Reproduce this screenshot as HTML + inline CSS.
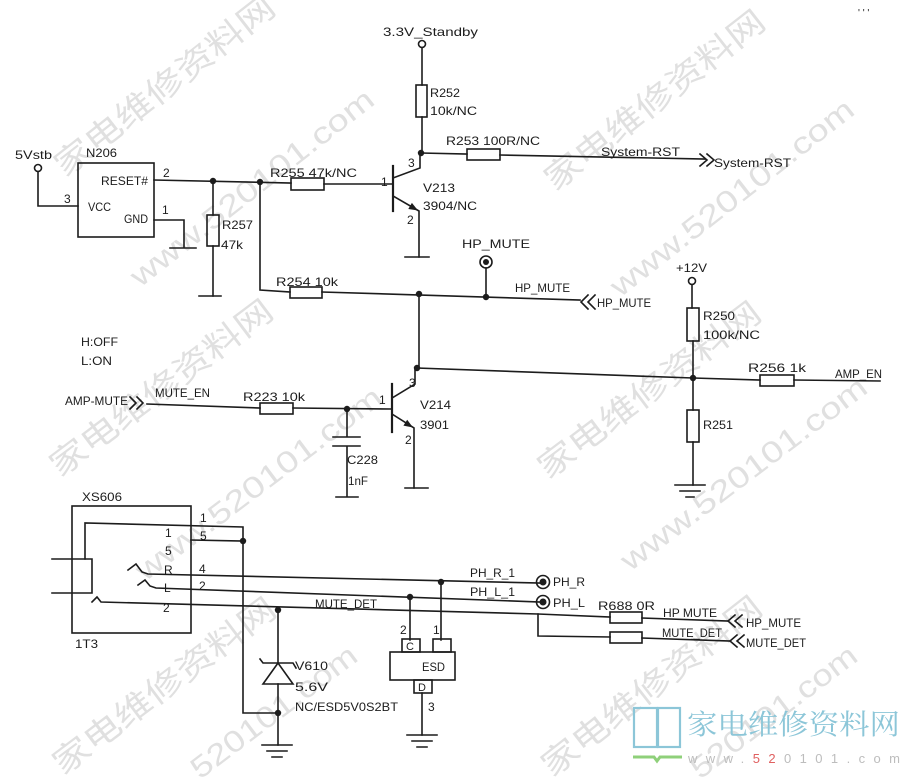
<!DOCTYPE html>
<html><head><meta charset="utf-8"><style>
html,body{margin:0;padding:0;background:#fff;width:910px;height:781px;overflow:hidden;}
svg{display:block;overflow:hidden;}
.t{font-family:"Liberation Sans","Noto Sans CJK SC",sans-serif;font-size:12px;fill:#1c1c1c;}
.w{font-family:"Liberation Sans","Noto Sans CJK SC",sans-serif;fill:#e0e0e0;}
</style></head><body>
<svg width="910" height="781" viewBox="0 0 910 781" xmlns="http://www.w3.org/2000/svg">
<defs><clipPath id="cp"><rect x="0" y="0" width="910" height="781"/></clipPath></defs>
<rect width="910" height="781" fill="#fff"/>
<g clip-path="url(#cp)">
<!-- watermarks -->
<g class="w" font-size="32">
<text transform="translate(65,178) rotate(-38)" textLength="270" lengthAdjust="spacingAndGlyphs">家电维修资料网</text>
<text transform="translate(555,192) rotate(-38)" textLength="270" lengthAdjust="spacingAndGlyphs">家电维修资料网</text>
<text transform="translate(60,478) rotate(-37)" textLength="270" lengthAdjust="spacingAndGlyphs">家电维修资料网</text>
<text transform="translate(548,480) rotate(-37)" textLength="270" lengthAdjust="spacingAndGlyphs">家电维修资料网</text>
<text transform="translate(63,776) rotate(-37)" textLength="270" lengthAdjust="spacingAndGlyphs">家电维修资料网</text>
<text transform="translate(552,778) rotate(-38)" textLength="270" lengthAdjust="spacingAndGlyphs">家电维修资料网</text>
</g>
<g class="w" font-size="30">
<text transform="translate(140,288) rotate(-38)" textLength="300" lengthAdjust="spacingAndGlyphs">www.520101.com</text>
<text transform="translate(620,298) rotate(-38)" textLength="300" lengthAdjust="spacingAndGlyphs">www.520101.com</text>
<text transform="translate(145,582) rotate(-37)" textLength="300" lengthAdjust="spacingAndGlyphs">www.520101.com</text>
<text transform="translate(630,572) rotate(-37)" textLength="300" lengthAdjust="spacingAndGlyphs">www.520101.com</text>
<text transform="translate(200,780) rotate(-37)" textLength="200" lengthAdjust="spacingAndGlyphs">520101.com</text>
<text transform="translate(700,780) rotate(-37)" textLength="200" lengthAdjust="spacingAndGlyphs">520101.com</text>
</g>
</g>

<g stroke="#1c1c1c" stroke-width="1.6" fill="none" stroke-linecap="square">
<!-- 5Vstb / N206 -->
<circle cx="38" cy="168" r="3.5"/>
<path d="M38,171.5 V206 H78"/>
<rect x="78" y="163" width="76" height="74"/>
<path d="M154,180 L291,183"/>
<path d="M154,220 H184 V247"/>
<path d="M170,248 H196"/>
<!-- R257 -->
<path d="M213,181 V215"/>
<rect x="207" y="215" width="12" height="31"/>
<path d="M213,246 V296"/>
<path d="M199,296 H221"/>
<!-- R254 path -->
<path d="M260,182 V290 L290,292"/>
<!-- R255 -->
<rect x="291" y="178" width="33" height="12"/>
<path d="M324,184 H393"/>
<!-- V213 -->
<path d="M393,166 V211" stroke-width="2.2"/>
<path d="M393,178 L420,168 V153"/>
<path d="M393,196 L419,211 V257"/>
<path d="M405,257 H429"/>
<!-- 3.3V standby -->
<circle cx="422" cy="44" r="3.5"/>
<path d="M422,47.5 V85"/>
<rect x="416" y="85" width="11" height="32"/>
<path d="M422,117 V153"/>
<path d="M421,153 L467,154"/>
<rect x="467" y="149" width="33" height="11"/>
<path d="M500,155 L705,159"/>
<path d="M700,154 L707,160 L700,166 M707,154 L714,160 L707,166"/>
<!-- R254 line -->
<rect x="290" y="287" width="32" height="11"/>
<path d="M322,292 L580,300"/>
<circle cx="486" cy="262" r="6"/>
<path d="M486,268 V297"/>
<path d="M588,295 L581,302 L588,309 M595,295 L588,302 L595,309"/>
<path d="M419,294 V368"/>
<!-- AMP-MUTE -->
<path d="M130,397 L136,403 L130,409 M137,397 L143,403 L137,409"/>
<path d="M147,404 L260,408"/>
<rect x="260" y="403" width="33" height="11"/>
<path d="M293,408 L392,409"/>
<!-- V214 -->
<path d="M392,384 V432" stroke-width="2.2"/>
<path d="M392,398 L415,384 V368"/>
<path d="M392,414 L414,428 V488"/>
<path d="M405,488 H428"/>
<!-- C228 -->
<path d="M347,409 V437 M333,437 H360 M333,446 H360 M347,446 V497 M336,497 H358"/>
<!-- AMP_EN -->
<path d="M417,368 L693,378 L760,380"/>
<rect x="760" y="375" width="34" height="11"/>
<path d="M794,380 L880,381"/>
<circle cx="692" cy="281" r="3.5"/>
<path d="M692,284.5 V308"/>
<rect x="687" y="308" width="12" height="33"/>
<path d="M693,341 V410"/>
<rect x="687" y="410" width="12" height="32"/>
<path d="M693,442 V485"/>
<path d="M675,485 H705 M680,491 H700 M686,497 H694"/>
<!-- XS606 -->
<rect x="72" y="506" width="119" height="127"/>
<path d="M85,559 V523 L243,527 V713 L278,713"/>
<path d="M191,540 L243,541"/>
<path d="M52,559 H92 V593 H52"/>
<path d="M128,570 L136,564 L142,572 L148,574 L540,583"/>
<path d="M138,585 L145,580 L150,586 L156,588 L540,602"/>
<path d="M92,602 L97,597 L101,602 L538,614 L610,617"/>
<rect x="610" y="612" width="32" height="11"/>
<path d="M642,618 L728,621"/>
<path d="M735,615 L728,621 L735,627 M742,615 L735,621 L742,627"/>
<path d="M538,614 V636 L610,637"/>
<rect x="610" y="632" width="32" height="11"/>
<path d="M642,638 L730,641"/>
<path d="M737,635 L730,641 L737,647 M744,635 L737,641 L744,647"/>
<circle cx="543" cy="582" r="6.5"/>
<circle cx="543" cy="602" r="6.5"/>
<!-- Zener -->
<path d="M278,610 V663"/>
<path d="M260,659 L263,663 H293 L296,668"/>
<path d="M278,663 L263,684 H293 Z"/>
<path d="M278,684 V745"/>
<path d="M262,745 H292 M267,751 H287 M272,757 H282"/>
<!-- ESD -->
<path d="M410,597 V640 M441,582 V640"/>
<rect x="390" y="652" width="65" height="28"/>
<rect x="402" y="639" width="18" height="13"/>
<rect x="433" y="639" width="18" height="13"/>
<rect x="414" y="680" width="18" height="13"/>
<path d="M422,693 V735"/>
<path d="M407,735 H437 M412,741 H432 M417,747 H427"/>
</g>

<!-- junctions & filled bits -->
<g fill="#1c1c1c">
<circle cx="213" cy="181" r="3.2"/>
<circle cx="260" cy="182" r="3.2"/>
<circle cx="421" cy="153" r="3.2"/>
<circle cx="419" cy="294" r="3.2"/>
<circle cx="486" cy="297" r="3.2"/>
<circle cx="486" cy="262" r="3"/>
<circle cx="347" cy="409" r="3.2"/>
<circle cx="417" cy="368" r="3.2"/>
<circle cx="693" cy="378" r="3.2"/>
<circle cx="243" cy="541" r="3.2"/>
<circle cx="278" cy="610" r="3.2"/>
<circle cx="278" cy="713" r="3.2"/>
<circle cx="441" cy="582" r="3.2"/>
<circle cx="410" cy="597" r="3.2"/>
<circle cx="543" cy="582" r="3.5"/>
<circle cx="543" cy="602" r="3.5"/>
<polygon points="418,210.5 408.3,209 411.9,202.9"/>
<polygon points="413,427.5 403.4,425.6 407.2,419.7"/>
</g>

<!-- labels -->
<g class="t">
<text x="15" y="159" textLength="37" lengthAdjust="spacingAndGlyphs">5Vstb</text>
<text x="86" y="157" textLength="31" lengthAdjust="spacingAndGlyphs">N206</text>
<text x="101" y="185" textLength="47" lengthAdjust="spacingAndGlyphs">RESET#</text>
<text x="88" y="211" textLength="23" lengthAdjust="spacingAndGlyphs">VCC</text>
<text x="124" y="223" textLength="24" lengthAdjust="spacingAndGlyphs">GND</text>
<text x="64" y="203">3</text>
<text x="163" y="177">2</text>
<text x="162" y="214">1</text>
<text x="222" y="229" textLength="31" lengthAdjust="spacingAndGlyphs">R257</text>
<text x="221" y="249" textLength="22" lengthAdjust="spacingAndGlyphs">47k</text>
<text x="383" y="36" textLength="95" lengthAdjust="spacingAndGlyphs">3.3V_Standby</text>
<text x="430" y="97" textLength="30" lengthAdjust="spacingAndGlyphs">R252</text>
<text x="430" y="115" textLength="47" lengthAdjust="spacingAndGlyphs">10k/NC</text>
<text x="446" y="145" textLength="94" lengthAdjust="spacingAndGlyphs">R253 100R/NC</text>
<text x="270" y="177" textLength="87" lengthAdjust="spacingAndGlyphs">R255 47k/NC</text>
<text x="381" y="186">1</text>
<text x="408" y="167">3</text>
<text x="407" y="224">2</text>
<text x="423" y="192" textLength="32" lengthAdjust="spacingAndGlyphs">V213</text>
<text x="423" y="210" textLength="54" lengthAdjust="spacingAndGlyphs">3904/NC</text>
<text x="601" y="156" textLength="79" lengthAdjust="spacingAndGlyphs">System-RST</text>
<text x="714" y="167" textLength="77" lengthAdjust="spacingAndGlyphs">System-RST</text>
<text x="276" y="286" textLength="62" lengthAdjust="spacingAndGlyphs">R254 10k</text>
<text x="462" y="248" textLength="68" lengthAdjust="spacingAndGlyphs">HP_MUTE</text>
<text x="515" y="292" textLength="55" lengthAdjust="spacingAndGlyphs">HP_MUTE</text>
<text x="597" y="307" textLength="54" lengthAdjust="spacingAndGlyphs">HP_MUTE</text>
<text x="676" y="272" textLength="31" lengthAdjust="spacingAndGlyphs">+12V</text>
<text x="703" y="320" textLength="32" lengthAdjust="spacingAndGlyphs">R250</text>
<text x="703" y="339" textLength="57" lengthAdjust="spacingAndGlyphs">100k/NC</text>
<text x="703" y="429" textLength="30" lengthAdjust="spacingAndGlyphs">R251</text>
<text x="748" y="372" textLength="58" lengthAdjust="spacingAndGlyphs">R256 1k</text>
<text x="835" y="378" textLength="47" lengthAdjust="spacingAndGlyphs">AMP_EN</text>
<text x="81" y="346" textLength="37" lengthAdjust="spacingAndGlyphs">H:OFF</text>
<text x="81" y="365" textLength="31" lengthAdjust="spacingAndGlyphs">L:ON</text>
<text x="65" y="405" textLength="63" lengthAdjust="spacingAndGlyphs">AMP-MUTE</text>
<text x="155" y="397" textLength="55" lengthAdjust="spacingAndGlyphs">MUTE_EN</text>
<text x="243" y="401" textLength="62" lengthAdjust="spacingAndGlyphs">R223 10k</text>
<text x="379" y="404">1</text>
<text x="409" y="387">3</text>
<text x="405" y="444">2</text>
<text x="420" y="409" textLength="31" lengthAdjust="spacingAndGlyphs">V214</text>
<text x="420" y="429" textLength="29" lengthAdjust="spacingAndGlyphs">3901</text>
<text x="347" y="464" textLength="31" lengthAdjust="spacingAndGlyphs">C228</text>
<text x="348" y="485" textLength="20" lengthAdjust="spacingAndGlyphs">1nF</text>
<text x="82" y="501" textLength="40" lengthAdjust="spacingAndGlyphs">XS606</text>
<text x="75" y="648" textLength="23" lengthAdjust="spacingAndGlyphs">1T3</text>
<text x="165" y="537">1</text>
<text x="165" y="555">5</text>
<text x="164" y="574">R</text>
<text x="164" y="592">L</text>
<text x="163" y="612">2</text>
<text x="200" y="522">1</text>
<text x="200" y="540">5</text>
<text x="199" y="573">4</text>
<text x="199" y="590">2</text>
<text x="470" y="577" textLength="45" lengthAdjust="spacingAndGlyphs">PH_R_1</text>
<text x="470" y="596" textLength="45" lengthAdjust="spacingAndGlyphs">PH_L_1</text>
<text x="315" y="608" textLength="62" lengthAdjust="spacingAndGlyphs">MUTE_DET</text>
<text x="553" y="586" textLength="32" lengthAdjust="spacingAndGlyphs">PH_R</text>
<text x="553" y="607" textLength="32" lengthAdjust="spacingAndGlyphs">PH_L</text>
<text x="598" y="610" textLength="57" lengthAdjust="spacingAndGlyphs">R688 0R</text>
<text x="663" y="617" textLength="54" lengthAdjust="spacingAndGlyphs">HP MUTE</text>
<text x="662" y="637" textLength="60" lengthAdjust="spacingAndGlyphs">MUTE_DET</text>
<text x="746" y="627" textLength="55" lengthAdjust="spacingAndGlyphs">HP_MUTE</text>
<text x="746" y="647" textLength="60" lengthAdjust="spacingAndGlyphs">MUTE_DET</text>
<text x="295" y="670" textLength="33" lengthAdjust="spacingAndGlyphs">V610</text>
<text x="295" y="691" textLength="33" lengthAdjust="spacingAndGlyphs">5.6V</text>
<text x="295" y="711" textLength="103" lengthAdjust="spacingAndGlyphs">NC/ESD5V0S2BT</text>
<text x="422" y="671" textLength="23" lengthAdjust="spacingAndGlyphs">ESD</text>
<text x="406" y="650" font-size="11">C</text>
<text x="418" y="691" font-size="11">D</text>
<text x="400" y="634">2</text>
<text x="433" y="634">1</text>
<text x="428" y="711">3</text>
<text x="858" y="16" font-size="10">' ' '</text>
</g>

<!-- logo -->
<g fill="none" stroke="#8cc6d8" stroke-width="2.2">
<rect x="634" y="708" width="23" height="39"/>
<rect x="658" y="708" width="22" height="39"/>
</g>
<path d="M633,757 H654 L657,761 L660,757 H682" stroke="#8fd07a" stroke-width="3" fill="none"/>
<text x="687" y="734" font-family="'Noto Serif CJK SC','Noto Sans CJK SC',sans-serif" font-size="28" fill="#8cc6d8" textLength="213" lengthAdjust="spacingAndGlyphs">家电维修资料网</text>
<text x="688" y="763" font-family="'Liberation Sans',sans-serif" font-size="13" fill="#bdbdbd" textLength="212" lengthAdjust="spacing">www.<tspan fill="#e06060">52</tspan>0101.com</text>
</svg>
</body></html>
